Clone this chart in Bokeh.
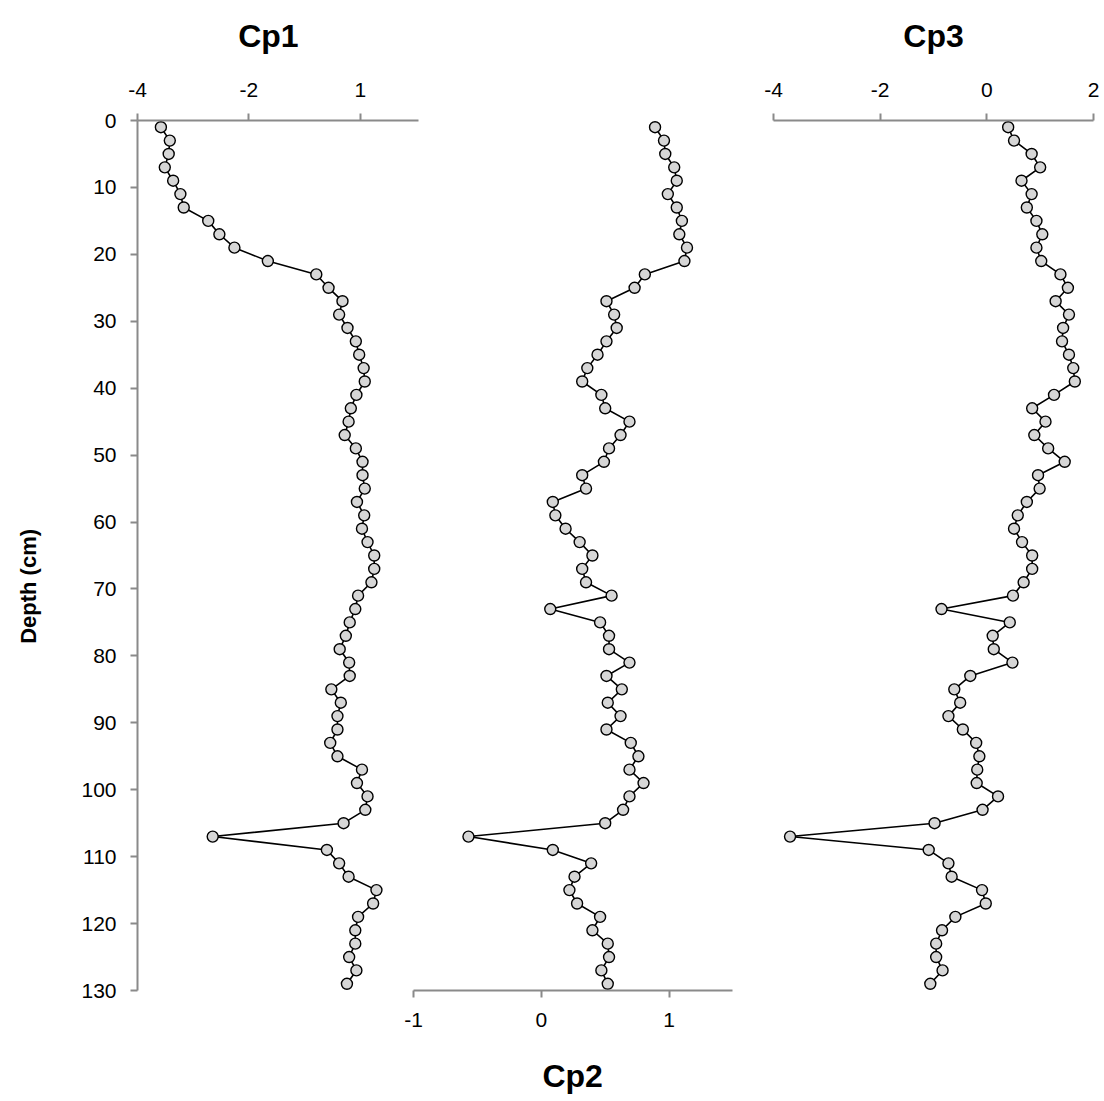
from bokeh.plotting import figure
from bokeh.models import Range1d, LinearAxis, FixedTicker, Label, ColumnDataSource
from bokeh.layouts import row
from bokeh.embed import file_html
from bokeh.resources import INLINE

# ---------------- data ----------------
depth = list(range(1, 130, 2))  # cm

cp1 = [-3.58, -3.42, -3.44, -3.51, -3.36, -3.23, -3.17, -2.73, -2.53, -2.26,
       -1.66, -0.79, -0.57, -0.32, -0.38, -0.23, -0.08, -0.02, 0.06, 0.08,
       -0.07, -0.17, -0.21, -0.28, -0.08, 0.04, 0.04, 0.08, -0.06, 0.07,
       0.03, 0.13, 0.25, 0.25, 0.20, -0.04, -0.09, -0.19, -0.26, -0.37,
       -0.20, -0.19, -0.52, -0.35, -0.41, -0.41, -0.54, -0.41, 0.03, -0.06,
       0.13, 0.09, -0.30, -2.65, -0.60, -0.38, -0.21, 0.29, 0.23, -0.04,
       -0.09, -0.09, -0.20, -0.07, -0.24]

cp2 = [0.89, 0.96, 0.97, 1.04, 1.06, 0.99, 1.06, 1.10, 1.08, 1.14,
       1.12, 0.81, 0.73, 0.51, 0.57, 0.59, 0.51, 0.44, 0.36, 0.32,
       0.47, 0.50, 0.69, 0.62, 0.53, 0.49, 0.32, 0.35, 0.09, 0.11,
       0.19, 0.30, 0.40, 0.32, 0.35, 0.55, 0.07, 0.46, 0.53, 0.53,
       0.69, 0.51, 0.63, 0.52, 0.62, 0.51, 0.70, 0.76, 0.69, 0.80,
       0.69, 0.64, 0.50, -0.57, 0.09, 0.39, 0.26, 0.22, 0.28, 0.46,
       0.40, 0.52, 0.53, 0.47, 0.52]

cp3 = [0.40, 0.51, 0.84, 1.00, 0.65, 0.84, 0.75, 0.93, 1.04, 0.93,
       1.02, 1.38, 1.52, 1.29, 1.54, 1.43, 1.41, 1.54, 1.62, 1.65,
       1.26, 0.85, 1.10, 0.89, 1.15, 1.46, 0.96, 0.99, 0.75, 0.58,
       0.51, 0.66, 0.85, 0.85, 0.69, 0.49, -0.85, 0.43, 0.11, 0.13,
       0.48, -0.31, -0.61, -0.50, -0.72, -0.45, -0.20, -0.14, -0.18, -0.19,
       0.21, -0.08, -0.98, -3.69, -1.09, -0.72, -0.66, -0.09, -0.02, -0.59,
       -0.84, -0.95, -0.95, -0.83, -1.06]

depth_ticks = list(range(0, 131, 10))
cp1_ticks = [-4, -2, 0]
cp1_tick_labels = {-4: "-4", -2: "-2", 0: "1"}   # as printed on the original axis
cp2_ticks = [-1, 0, 1]
cp2_tick_labels = {-1: "-1", 0: "0", 1: "1"}
cp3_ticks = [-4, -2, 0, 2]
cp3_tick_labels = {-4: "-4", -2: "-2", 0: "0", 2: "2"}

titles = ["Cp1", "Cp2", "Cp3"]
depth_label = "Depth (cm)"

# ---------------- style / layout ----------------
FONT = "Liberation Sans"
GRAY = "#8a8a8a"
H = 1101
FRAME_H = 872
FA_W = 595                     # frame width of the Cp1+Cp2 figure
PPU1, PPU2 = 55.7, 127.8       # pixels per unit on Cp1 and Cp2 scales
CP2_OFFSET = 276               # px from frame left to Cp2 = -1
PX_PER_CM = FRAME_H / 130.0


def style_axis(ax, standoff):
    ax.axis_line_color = GRAY
    ax.axis_line_width = 2
    ax.major_tick_line_color = GRAY
    ax.major_tick_line_width = 2
    ax.major_tick_out = 7
    ax.major_tick_in = 0
    ax.minor_tick_line_color = None
    ax.major_label_text_font = FONT
    ax.major_label_text_font_size = "21px"
    ax.major_label_text_color = "black"
    ax.major_label_standoff = standoff


def add_series(p, xs, range_name=None):
    src = ColumnDataSource(dict(x=xs, y=depth))
    kw = {} if range_name is None else {"x_range_name": range_name}
    p.line("x", "y", source=src, line_color="black", line_width=1.6, **kw)
    p.scatter("x", "y", source=src, size=11, fill_color="#d6d6d6",
              line_color="black", line_width=1.4, **kw)


def text_label(text, x, y, range_name="default", size="32px", angle=0):
    return Label(x=x, y=y, x_range_name=range_name, text=text,
                 angle=angle, angle_units="deg",
                 text_align="center", text_baseline="middle",
                 text_font=FONT, text_font_style="bold",
                 text_font_size=size, text_color="black")


# ---- figure A : Cp1 (top axis) + Cp2 (bottom axis) ----
x1_start = cp1_ticks[0]
x1_end = x1_start + FA_W / PPU1
x2_start = cp2_ticks[0] - CP2_OFFSET / PPU2
x2_end = x2_start + FA_W / PPU2

pA = figure(width=137 + FA_W + 10, height=H,
            x_range=Range1d(x1_start, x1_end), y_range=Range1d(130, 0),
            output_backend="svg", toolbar_location=None,
            x_axis_location=None, y_axis_location=None,
            min_border_left=137, min_border_right=10,
            min_border_top=118, min_border_bottom=H - 118 - FRAME_H)
pA.extra_x_ranges = {"cp2": Range1d(x2_start, x2_end)}
pA.outline_line_color = None
pA.grid.grid_line_color = None

ax1 = LinearAxis(ticker=FixedTicker(ticks=cp1_ticks), bounds=(-4, 1.04),
                 major_label_overrides=cp1_tick_labels)
style_axis(ax1, 17)
pA.add_layout(ax1, "above")

ax2 = LinearAxis(x_range_name="cp2", ticker=FixedTicker(ticks=cp2_ticks),
                 bounds=(-1, 1.5), major_label_overrides=cp2_tick_labels)
style_axis(ax2, 15)
pA.add_layout(ax2, "below")

yax = LinearAxis(ticker=FixedTicker(ticks=depth_ticks))
style_axis(yax, 14)
pA.add_layout(yax, "left")

add_series(pA, cp1)
add_series(pA, cp2, "cp2")

# titles: x at the centre of each panel's axis (data units), y in depth units
pA.add_layout(text_label(titles[0], -1.65, -85 / PX_PER_CM), "above")
pA.add_layout(text_label(titles[1], 0.245, 958 / PX_PER_CM, "cp2"), "below")
pA.add_layout(text_label(depth_label, x1_start - 109 / PPU1, 467 / PX_PER_CM,
                         size="22px", angle=90), "left")

# ---- figure B : Cp3 (top axis) ----
pB = figure(width=31 + 320 + 11, height=H,
            x_range=Range1d(cp3_ticks[0], cp3_ticks[-1]), y_range=Range1d(130, 0),
            output_backend="svg", toolbar_location=None,
            x_axis_location=None, y_axis_location=None,
            min_border_left=31, min_border_right=11,
            min_border_top=120, min_border_bottom=H - 120 - FRAME_H)
pB.outline_line_color = None
pB.grid.grid_line_color = None

ax3 = LinearAxis(ticker=FixedTicker(ticks=cp3_ticks),
                 major_label_overrides=cp3_tick_labels)
style_axis(ax3, 17)
pB.add_layout(ax3, "above")

add_series(pB, cp3)
pB.add_layout(text_label(titles[2], -1.0, -85 / PX_PER_CM), "above")

layout = row(pA, pB, spacing=0)
open("out.html", "w").write(file_html(layout, INLINE))
